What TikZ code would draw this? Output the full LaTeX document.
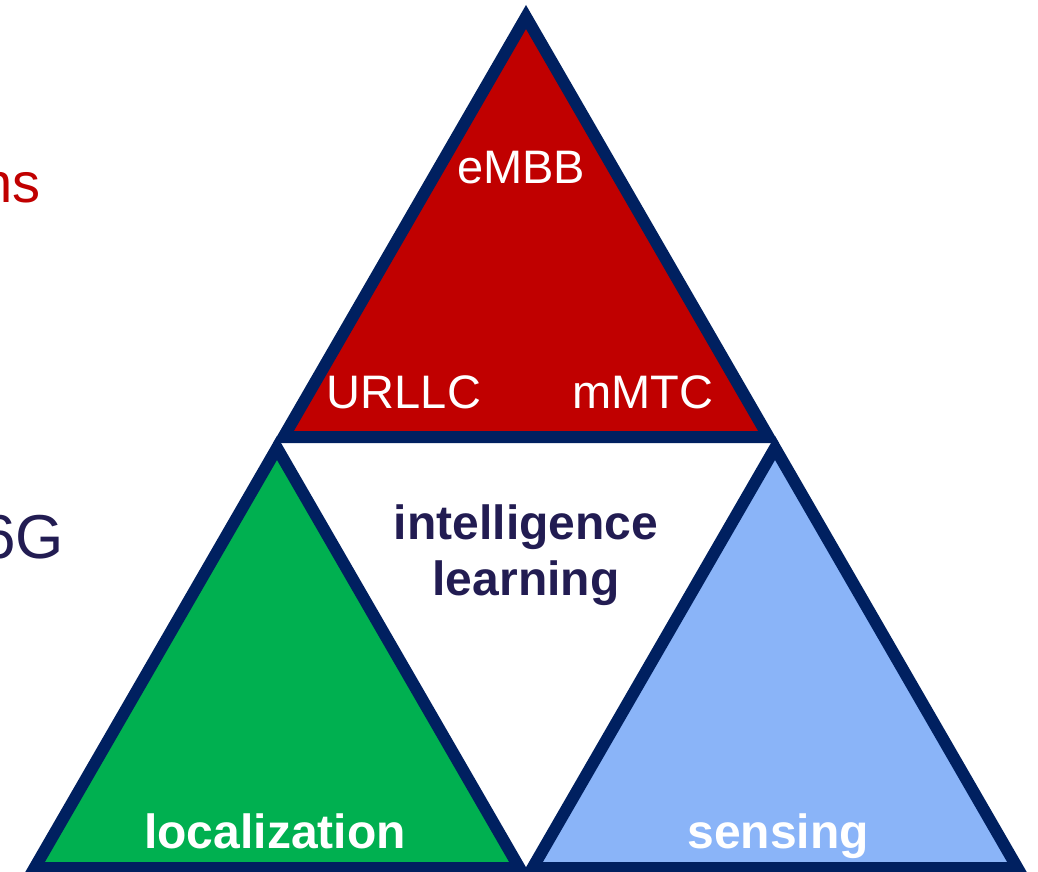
\documentclass[tikz,border=0pt]{standalone}
\usepackage{fontspec}
\setmainfont{Liberation Sans}
\definecolor{navy}{HTML}{002060}
\definecolor{ink}{HTML}{221C52}
\definecolor{redfill}{HTML}{C00000}
\definecolor{greenfill}{HTML}{00B050}
\definecolor{bluefill}{HTML}{8AB4F8}
\begin{document}
\begin{tikzpicture}[x=1pt,y=-1pt,
  tri/.style={draw=navy,line width=12pt,line join=miter},
  lbl/.style={anchor=base,inner sep=0pt,text=white,font=\fontsize{47}{56}\selectfont},
  boldlbl/.style={anchor=base,inner sep=0pt,font=\fontsize{48}{56}\selectfont\bfseries}]
\useasboundingbox (0,0) rectangle (1038,872);

% corner points of the three triangles
\coordinate (rt) at (526,17);   \coordinate (rl) at (283.5,437); \coordinate (rr) at (768.5,437);
\coordinate (gt) at (277,448);  \coordinate (gl) at (34.5,868);  \coordinate (gr) at (519.5,868);
\coordinate (bt) at (775,448);  \coordinate (bl) at (532.5,868); \coordinate (br) at (1017.5,868);

\draw[tri,fill=redfill]   (rt) -- (rr) -- (rl) -- cycle;
\draw[tri,fill=greenfill] (gt) -- (gr) -- (gl) -- cycle;
\draw[tri,fill=bluefill]  (bt) -- (br) -- (bl) -- cycle;

% side headings, running in from the left edge
\node[anchor=base east,inner sep=0pt,text=redfill,font=\fontsize{56}{60}\selectfont] (ns) at (41,202) {ns};
\node[anchor=base east,inner sep=0pt,text=ink,font=\fontsize{62}{66}\selectfont] (sixg) at (64,558) {6G};

% labels
\node[lbl] (embb) at (521,183) {eMBB};
\node[lbl] (urllc) at (404,408) {URLLC};
\node[lbl] (mmtc) at (643,408) {mMTC};
\node[boldlbl,text=ink] (intel) at (526,539) {intelligence};
\node[boldlbl,text=ink] (learn) at (526,595) {learning};
\node[boldlbl,text=white] (loc) at (275,848) {localization};
\node[boldlbl,text=white] (sens) at (778,848) {sensing};
\end{tikzpicture}
\end{document}
